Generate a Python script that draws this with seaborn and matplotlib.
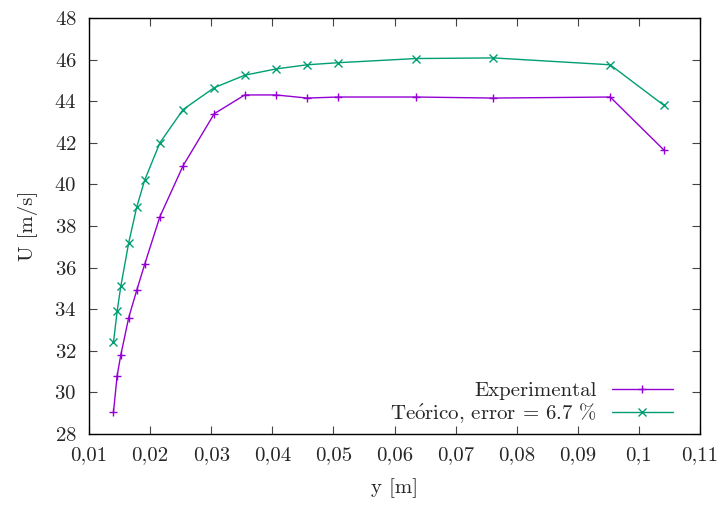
import matplotlib
matplotlib.use("Agg")
import matplotlib.pyplot as plt
import seaborn as sns
import pandas as pd
from matplotlib.ticker import FuncFormatter

# ---------- DATA ----------
y_pos = [0.0140, 0.0146, 0.0152, 0.0165, 0.0178, 0.0191, 0.0216, 0.0254, 0.0305,
         0.0355, 0.0406, 0.0457, 0.0508, 0.0635, 0.0762, 0.0953, 0.1041]
u_exp = [29.05, 30.8, 31.8, 33.6, 34.9, 36.15, 38.45, 40.9, 43.4,
         44.3, 44.3, 44.15, 44.2, 44.2, 44.15, 44.2, 41.65]
u_teo = [32.4, 33.9, 35.1, 37.2, 38.9, 40.2, 42.0, 43.6, 44.65,
         45.25, 45.55, 45.75, 45.85, 46.05, 46.08, 45.75, 43.8]

lab_exp = "Experimental"
lab_teo = r"Te$\mathrm{\acute{o}}$rico, error = 6.7 %"

x_ticks = [0.01, 0.02, 0.03, 0.04, 0.05, 0.06, 0.07, 0.08, 0.09, 0.10, 0.11]
y_ticks = list(range(28, 49, 2))

df = pd.DataFrame({
    "y": y_pos * 2,
    "U": u_exp + u_teo,
    "serie": ["exp"] * len(y_pos) + ["teo"] * len(y_pos),
})

# ---------- STYLE ----------
sns.set_style("ticks")
plt.rcParams["font.family"] = ["cmr10", "DejaVu Serif"]
plt.rcParams["axes.formatter.use_mathtext"] = True
plt.rcParams["mathtext.fontset"] = "cm"
fs = 15
plt.rcParams["font.size"] = fs

fig = plt.figure(figsize=(7.25, 5.08), dpi=100)
ax = fig.add_axes([0.1228, 0.1457, 0.8427, 0.8189])

sns.lineplot(data=df, x="y", y="U", hue="serie", style="serie",
             palette=["#9400d3", "#009e73"], markers=["+", "x"], dashes=False,
             markersize=6, markeredgewidth=1.0, linewidth=1.0, ax=ax,
             legend=False)

# seaborn paints the marker edges white; give them the line colour
for ln in ax.lines:
    ln.set_markeredgecolor(ln.get_color())

ax.set_xlim(0.01, 0.11)
ax.set_ylim(28, 48)
ax.set_xticks(x_ticks)
ax.set_yticks(y_ticks)

def comma_fmt(v, pos):
    s = ("%.2f" % v).rstrip("0").rstrip(".")
    return s.replace(".", ",")

ax.xaxis.set_major_formatter(FuncFormatter(comma_fmt))
ax.tick_params(direction="in", length=6, width=0.8, top=True, right=True,
               labelsize=fs, pad=9, color="#444444")
for sp in ax.spines.values():
    sp.set_linewidth(1.0)
    sp.set_color("black")

ax.set_xlabel("y [m]", fontsize=fs, labelpad=10)
ax.set_ylabel("U [m/s]", fontsize=fs, labelpad=12)

ax.legend(ax.lines[:2], [lab_exp, lab_teo], loc="lower right", frameon=False,
          markerfirst=False, handlelength=2.9, handletextpad=0.72, fontsize=fs,
          labelspacing=0.05, borderaxespad=0.3, bbox_to_anchor=(0.979, -0.014))

fig.savefig("out.png", dpi=100)
